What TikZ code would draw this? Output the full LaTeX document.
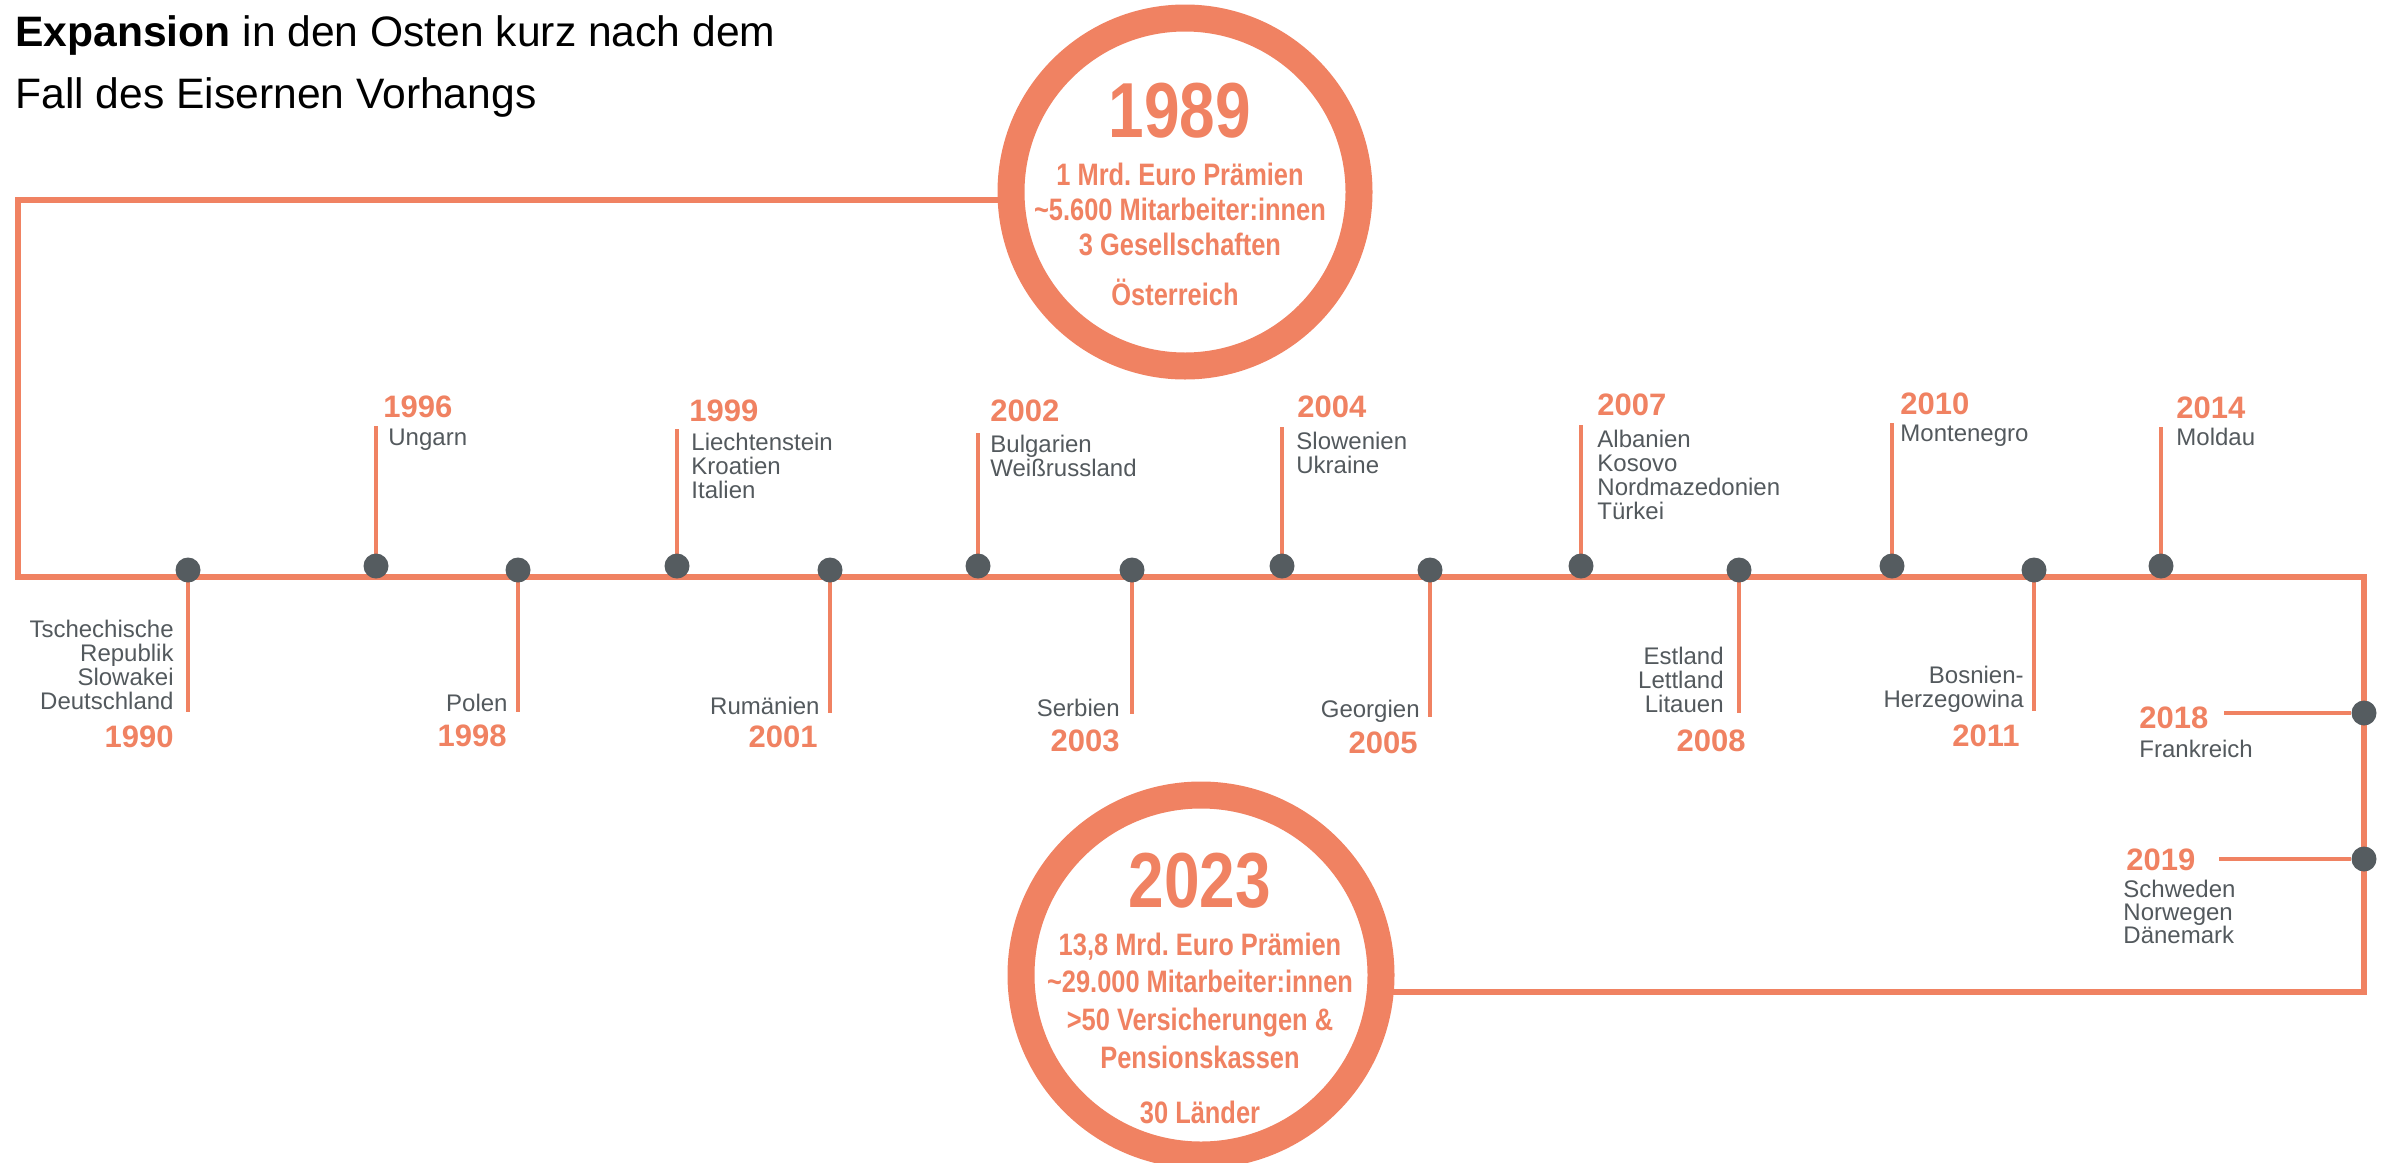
\documentclass[tikz,border=0pt]{standalone}
\usepackage{fontspec}
\setmainfont{Liberation Sans}
\newfontfamily\narrowfont{Liberation Sans}[FakeStretch=0.82]
\usetikzlibrary{backgrounds}
\definecolor{orng}{HTML}{F08262}
\definecolor{dotgray}{HTML}{555C60}
\definecolor{txtgray}{HTML}{53595D}
\newcommand\Lstack[1]{\vtop{\halign{##\hfil\cr#1\crcr}}}
\newcommand\Rstack[1]{\vbox{\halign{\hfil##\cr#1\crcr}}}
\newcommand\Cstack[1]{\vtop{\halign{\hfil##\hfil\cr#1\crcr}}}
\frenchspacing
\tikzset{
  frame/.style={draw=orng, line width=3pt, line join=miter},
  stem/.style={draw=orng, line width=2pt},
  dot/.style={circle, fill=dotgray, inner sep=0pt, minimum size=12.5pt},
  ring/.style={circle, draw=orng, fill=white, line width=13.5pt, inner sep=0pt},
  ctry/.style={inner sep=0pt, text=txtgray, font={\fontsize{12}{12}\selectfont\lineskiplimit=-20pt\relax}},
  yr/.style={inner sep=0pt, text=orng, font={\fontsize{15.5}{15.5}\selectfont\bfseries}},
  bigyr/.style={inner sep=0pt, text=orng, anchor=base, font={\narrowfont\bfseries\fontsize{39}{39}\selectfont}},
  info/.style={inner sep=0pt, text=orng, anchor=base, font={\narrowfont\bfseries\fontsize{15.5}{17.5}\selectfont\lineskiplimit=-20pt\relax}},
  title/.style={inner sep=0pt, text=black, anchor=base west, font={\fontsize{21.3}{31}\selectfont\lineskiplimit=-20pt\relax}}
}
\begin{document}
\begin{tikzpicture}[x=0.5pt,y=-0.5pt]
\useasboundingbox (0,0) rectangle (2381,1162);
% title
\node[title] (ttl) at (15,46) {\Lstack{\textbf{Expansion} in den Osten kurz nach dem\cr Fall des Eisernen Vorhangs}};
% rings
\node[ring, minimum size=174pt] (ring1) at (1185,192) {};
\node[ring, minimum size=180pt] (ring2) at (1201,975) {};
\node[bigyr] (y1989) at (1180,137) {1989};
\node[info] (i1989) at (1180,185) {\Cstack{1 Mrd. Euro Prämien\cr \textasciitilde5.600 Mitarbeiter:innen\cr 3 Gesellschaften}};
\node[info] (c1989) at (1175,305) {Österreich};
\node[bigyr] (y2023) at (1200,907) {2023};
\node[info, font={\narrowfont\bfseries\fontsize{15.5}{18.85}\selectfont\lineskiplimit=-20pt\relax}] (i2023) at (1200,955) {\Cstack{13,8 Mrd. Euro Prämien\cr \textasciitilde29.000 Mitarbeiter:innen\cr >50 Versicherungen \&\cr Pensionskassen}};
\node[info] (c2023) at (1200,1123) {30 Länder};
% frame coordinates
\coordinate (tl) at (18,200);
\coordinate (bl) at (18,577);
\coordinate (br) at (2364,577);
\coordinate (rb) at (2364,992);
\begin{scope}[on background layer]
\draw[frame] (ring1.center |- tl) -- (tl) -- (bl) -- (br) -- (rb) -- (ring2.center |- rb);
\end{scope}
% ---- above items
\foreach \nm/\x/\top/\yx/\yy/\tx/\ty/\txt in {
 1996/376/426/383/417/388/445/{Ungarn},
 1999/677/429/689/421/691/450/{Liechtenstein\cr Kroatien\cr Italien},
 2002/978/433/990/421/990/452/{Bulgarien\cr Weißrussland},
 2004/1282/427/1297/417/1296/449/{Slowenien\cr Ukraine},
 2007/1581/425/1597/415/1597/447/{Albanien\cr Kosovo\cr Nordmazedonien\cr Türkei},
 2010/1892/423/1900/414/1900/441/{Montenegro},
 2014/2161/427/2176/418/2176/445/{Moldau}}{
  \node[dot] (d\nm) at (\x,566) {};
  \coordinate (s\nm) at (\x,\top);
  \begin{scope}[on background layer]\draw[stem] (d\nm.center) -- (s\nm);\end{scope}
  \node[yr, anchor=base west] (y\nm) at (\yx,\yy) {\nm};
  \node[ctry, anchor=base west] (t\nm) at (\tx,\ty) {\Lstack{\txt}};
}
% ---- below items
\foreach \nm/\x/\bot/\tx/\ty/\yx/\yy/\txt in {
 1990/188/712/174/709/174/747/{Tschechische\cr Republik\cr Slowakei\cr Deutschland},
 1998/518/712/508/711/507/746/{Polen},
 2001/830/713/820/714/818/747/{Rumänien},
 2003/1132/714/1120/716/1120/751/{Serbien},
 2005/1430/717/1420/717/1418/753/{Georgien},
 2008/1739/713/1724/712/1746/751/{Estland\cr Lettland\cr Litauen},
 2011/2034/711/2024/707/2020/746/{Bosnien-\cr Herzegowina}}{
  \node[dot] (d\nm) at (\x,570) {};
  \coordinate (s\nm) at (\x,\bot);
  \begin{scope}[on background layer]\draw[stem] (d\nm.center) -- (s\nm);\end{scope}
  \node[ctry, anchor=base east] (t\nm) at (\tx,\ty) {\Rstack{\txt}};
  \node[yr, anchor=base east] (y\nm) at (\yx,\yy) {\nm};
}
% ---- right side items
\node[dot] (d2018) at (2364,713) {};
\coordinate (s2018) at (2224,713);
\draw[stem] (d2018) -- (s2018);
\node[yr, anchor=base west] (y2018) at (2139,728) {2018};
\node[ctry, anchor=base west] (t2018) at (2139,757) {Frankreich};
\node[dot] (d2019) at (2364,859) {};
\coordinate (s2019) at (2219,859);
\draw[stem] (d2019) -- (s2019);
\node[yr, anchor=base west] (y2019) at (2126,870) {2019};
\node[ctry, anchor=base west, font={\fontsize{12}{11.5}\selectfont\lineskiplimit=-20pt\relax}] (t2019) at (2123,897) {\Lstack{Schweden\cr Norwegen\cr Dänemark}};
\end{tikzpicture}
\end{document}
